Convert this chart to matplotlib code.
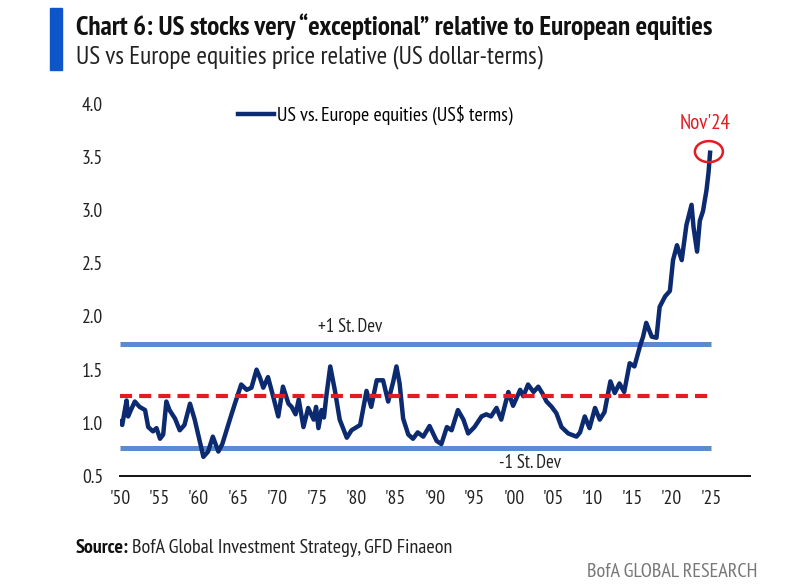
import matplotlib
matplotlib.use("Agg")
import matplotlib.pyplot as plt
from matplotlib import font_manager
from matplotlib.patches import Ellipse, Rectangle

# pick a condensed face with regular and bold weights, the original uses a narrow sans
weights = {}
for f in font_manager.fontManager.ttflist:
    w = f.weight if isinstance(f.weight, int) else font_manager.weight_dict.get(f.weight, 400)
    weights.setdefault(f.name, set()).add(w)
candidates = ['PT Sans Narrow', 'Roboto Condensed', 'Open Sans Condensed', 'Fira Sans Condensed',
              'Archivo Narrow', 'Liberation Sans Narrow', 'Encode Sans Condensed',
              'IBM Plex Sans Condensed', 'Asap Condensed', 'Barlow Semi Condensed']
narrow = [n for n in candidates if 400 in weights.get(n, set()) and 700 in weights.get(n, set())]
plt.rcParams['font.family'] = narrow[:1] + ['DejaVu Sans']

# US vs Europe equities, price relative in US$ terms
years = [1950.0, 1950.3, 1950.85, 1951.05, 1951.4, 1951.9, 1952.5, 1953.2, 1953.6, 1954.2,
         1954.65, 1955.1, 1955.5, 1955.9, 1956.3, 1957.0, 1957.6, 1958.2, 1958.9, 1959.5,
         1960.2, 1960.6, 1961.2, 1961.8, 1962.5, 1963.0, 1963.5, 1964.0, 1964.6, 1965.4,
         1966.1, 1966.7, 1967.35, 1967.8, 1968.2, 1968.8, 1969.45, 1970.1, 1970.7, 1971.4,
         1971.8, 1972.3, 1972.7, 1973.3, 1973.9, 1974.6, 1974.9, 1975.2, 1975.6, 1975.9,
         1976.2, 1976.7, 1977.3, 1977.9, 1978.8, 1979.4, 1980.5, 1981.3, 1981.9, 1982.6,
         1983.4, 1984.05, 1984.7, 1985.1, 1985.5, 1985.95, 1986.6, 1987.2, 1987.8, 1988.5,
         1989.3, 1990.2, 1990.8, 1991.5, 1992.1, 1992.9, 1993.6, 1994.2, 1995.0, 1995.9,
         1996.5, 1997.1, 1997.8, 1998.4, 1999.3, 1999.9, 2000.8, 2001.2, 2001.8, 2002.5,
         2003.1, 2003.6, 2004.15, 2004.8, 2005.4, 2006.05, 2006.9, 2007.95, 2008.4, 2009.0,
         2009.6, 2010.3, 2010.9, 2011.5, 2012.25, 2012.8, 2013.4, 2014.0, 2014.7, 2015.3,
         2016.0, 2016.4, 2016.8, 2017.5, 2018.1, 2018.5, 2019.2, 2019.8, 2020.2, 2020.7,
         2021.3, 2021.9, 2022.55, 2022.8, 2023.25, 2023.6, 2024.0, 2024.45, 2024.7, 2024.9]
values = [1.01, 0.98, 1.21, 1.06, 1.12, 1.20, 1.15, 1.12, 0.96, 0.92,
          0.95, 0.85, 0.89, 1.20, 1.12, 1.04, 0.93, 0.98, 1.18, 1.03,
          0.81, 0.68, 0.73, 0.87, 0.73, 0.80, 0.92, 1.04, 1.18, 1.36,
          1.31, 1.33, 1.50, 1.42, 1.33, 1.43, 1.25, 1.06, 1.34, 1.18,
          1.15, 1.08, 1.22, 0.96, 1.14, 1.03, 1.15, 0.95, 1.12, 1.05,
          1.25, 1.53, 1.30, 1.03, 0.86, 0.93, 0.98, 1.30, 1.15, 1.40,
          1.40, 1.20, 1.39, 1.53, 1.37, 1.04, 0.89, 0.85, 0.91, 0.87,
          0.97, 0.83, 0.80, 0.96, 0.93, 1.12, 1.03, 0.90, 0.96, 1.06,
          1.08, 1.06, 1.14, 1.03, 1.29, 1.16, 1.31, 1.25, 1.36, 1.29,
          1.34, 1.28, 1.20, 1.15, 1.09, 0.96, 0.90, 0.87, 0.91, 1.06,
          0.95, 1.14, 1.03, 1.10, 1.39, 1.28, 1.37, 1.29, 1.56, 1.53,
          1.72, 1.81, 1.94, 1.81, 1.80, 2.09, 2.19, 2.24, 2.53, 2.67,
          2.53, 2.86, 3.05, 2.84, 2.61, 2.90, 2.99, 3.19, 3.35, 3.54]

mean_level = 1.25
plus_sd = 1.74
minus_sd = 0.76
xticks = list(range(1950, 2030, 5))
xlabels = ["'%02d" % (y % 100) for y in xticks]
yticks = [0.5, 1.0, 1.5, 2.0, 2.5, 3.0, 3.5, 4.0]

navy = '#0b2a6f'
band = '#5b8bcf'
red = '#e31b23'

fig = plt.figure(figsize=(7.99, 5.88), dpi=100)
ax = fig.add_axes([0.150, 0.1905, 0.789, 0.633])

ax.hlines([plus_sd, minus_sd], 1950, 2025, color=band, lw=3.6, zorder=1)
ax.hlines(mean_level, 1950, 2025, color=red, lw=3.0, linestyles=(0, (2.9, 1.7)), zorder=3)
ax.plot(years, values, color=navy, lw=3.2, zorder=2, solid_joinstyle='round',
        label='US vs. Europe equities (US$ terms)')

ax.set_xlim(1950, 2030)
ax.set_ylim(0.5, 4.0)
ax.set_xticks(xticks)
ax.set_xticklabels(xlabels)
ax.set_yticks(yticks)
ax.set_yticklabels(['%.1f' % v for v in yticks])
ax.tick_params(axis='both', length=0, labelsize=14, colors='#222222')
ax.tick_params(axis='y', pad=12)
ax.tick_params(axis='x', pad=10)
for s in ['top', 'right', 'left']:
    ax.spines[s].set_visible(False)
ax.spines['bottom'].set_color('#111111')
ax.spines['bottom'].set_linewidth(1.4)

ax.legend(loc='center left', bbox_to_anchor=(0.171, 0.970), frameon=False,
          borderpad=0, handlelength=1.85, handletextpad=0.15, fontsize=14.3)

ax.text(1979.2, 1.90, '+1 St. Dev', ha='center', va='center', fontsize=13.5, color='#222222')
ax.text(2002.0, 0.625, '-1 St. Dev', ha='center', va='center', fontsize=13.5, color='#222222')
ax.text(2024.3, 3.81, "Nov'24", ha='center', va='center', fontsize=15, color=red)
ax.add_patch(Ellipse((2024.75, 3.55), 3.55, 0.198, fill=False, ec=red, lw=1.8, zorder=4))

# header
fig.patches.append(Rectangle((50 / 799, 1 - 70 / 588), 12 / 799, 62 / 588,
                             transform=fig.transFigure, color='#0d55c8'))
fig.text(76 / 799, 1 - 27 / 588, 'Chart 6: US stocks very \u201cexceptional\u201d relative to European equities',
         fontsize=19.5, fontweight='bold', va='center', ha='left', color='#111111')
fig.text(76 / 799, 1 - 57 / 588, 'US vs Europe equities price relative (US dollar-terms)',
         fontsize=18.3, va='center', ha='left', color='#222222')

src = fig.text(76 / 799, 1 - 548 / 588, 'Source:', fontsize=14.5, fontweight='bold',
               va='center', ha='left', color='#111111')
ax.annotate('BofA Global Investment Strategy, GFD Finaeon', xy=(1, 0.5), xycoords=src,
            xytext=(2, 0), textcoords='offset points', fontsize=14.5, va='center', ha='left',
            color='#222222', annotation_clip=False)
fig.text(757 / 799, 1 - 572 / 588, 'BofA GLOBAL RESEARCH', fontsize=14.5,
         va='center', ha='right', color='#777777')

fig.savefig('out.png', dpi=100, facecolor='white')
